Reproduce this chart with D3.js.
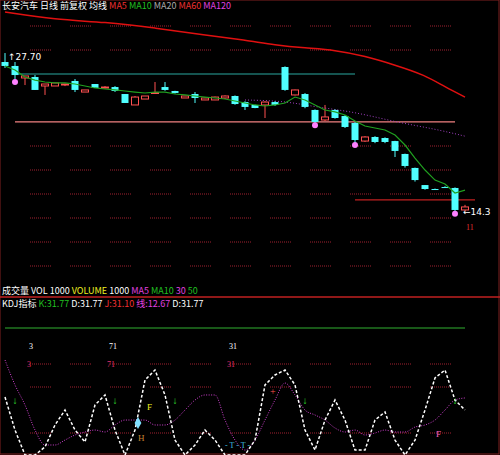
<!DOCTYPE html>
<html><head><meta charset="utf-8">
<script src="https://cdn.jsdelivr.net/npm/d3@7"></script>
<style>body{margin:0;background:#000}svg{display:block}</style></head>
<body><svg id="c" width="500" height="455"></svg>
<script>
// candles: [open, close, high, low]
const candles = [
[27.27,26.93,28.04,26.76],[26.93,26.15,27.27,25.72],[25.90,26.07,26.07,25.29],[25.98,24.87,26.15,24.87],
[25.21,25.38,25.38,24.44],[25.21,25.47,25.47,25.21],[25.30,25.38,25.40,25.20],[25.64,24.87,25.81,24.69],
[24.69,24.87,24.87,24.69],[25.38,25.04,25.38,25.04],[25.04,25.12,25.20,25.00],[25.12,24.78,25.20,24.70],
[24.52,23.75,24.52,23.75],[23.58,24.26,24.35,23.58],[24.09,24.35,24.35,24.09],[24.60,24.65,25.55,24.52],
[25.12,24.87,25.55,24.80],[24.78,24.61,24.80,24.55],[24.18,24.35,24.35,24.18],[24.52,24.18,24.69,23.75],
[24.01,24.18,24.20,24.00],[24.01,24.26,24.30,24.00],[24.18,24.35,24.40,24.10],[24.35,23.66,24.40,23.60],
[23.83,23.41,23.90,23.15],[23.58,23.32,23.60,23.30],[23.58,23.83,23.90,22.46],[23.83,23.58,23.90,23.50],
[26.84,24.87,26.90,24.80],[24.44,24.87,24.90,24.40],[24.52,23.41,24.60,23.30],[23.15,22.12,23.20,22.00],
[22.29,22.55,23.58,22.20],[23.15,22.46,23.20,22.40],[22.63,21.69,22.70,21.60],[22.03,20.57,22.10,20.31],
[20.48,20.83,20.90,20.40],[20.83,20.40,20.90,20.30],[20.74,20.40,20.80,20.30],[20.48,19.63,20.50,19.11],
[19.37,18.34,19.40,18.20],[18.17,17.13,18.20,17.00],[16.70,16.36,16.70,16.30],[16.36,16.33,16.40,16.30],
[16.53,16.50,16.60,16.50],[16.45,14.56,16.50,14.40],[14.56,14.82,15.00,14.50]];
const ma5 = [26.93,26.58,25.98,25.72,25.55,25.47,25.47,25.38,25.21,25.04,24.95,24.87,24.78,24.69,24.61,24.69,
24.69,24.52,24.44,24.35,24.26,24.18,24.09,23.92,23.75,23.58,23.49,23.58,23.75,24.26,24.01,23.58,23.15,22.98,
22.72,22.20,21.77,21.60,21.43,21.00,20.14,19.02,17.99,17.13,16.79,16.02,16.27];
const maLongIdx = [0,5,10,15,20,24,27,30,33,36,39,42,44,46];
const maLong = [31.56,30.90,30.71,30.20,29.59,29.16,28.73,28.47,28.30,27.78,27.01,26.15,25.12,24.26];
const maMidIdx = [24,28,31,35,39,43,46];
const maMid = [24.01,23.92,23.41,22.98,22.12,21.52,20.90];
const hLines = [{p:26.24,a:1,b:35,c:"#2aa7a0"},{p:22.12,a:1,b:45,c:"#f08080"},{p:15.42,a:35,b:47,c:"#c02020"}];
const jVals = [50.4,21.7,0,0,7.0,26.1,39.1,21.7,11.3,43.5,52.2,21.7,0,21.7,65.2,73.9,52.2,13.0,0,8.7,21.7,13.0,0,0,0,
13.0,60.9,69.6,73.9,60.9,21.7,4.3,30.4,47.8,30.4,4.3,4.3,30.4,37.4,13.0,0,13.0,39.1,67.0,73.9,47.8,39.1];
const dVals = [82.6,60.9,43.5,21.7,8.7,8.7,13.0,17.4,20.0,21.7,20.0,26.1,30.4,30.4,30.4,26.1,26.1,30.4,39.1,47.8,52.2,
52.2,30.4,13.0,4.3,13.0,30.4,47.8,62.6,52.2,39.1,34.8,30.4,23.5,20.0,21.7,17.4,19.1,21.7,20.0,20.0,24.3,26.1,30.4,
39.1,47.8,49.6];
const lowLabels = [{i:2,t:"3"},{i:10,t:"71"},{i:22,t:"31"}];

const svg = d3.select("#c");
const x = d3.scaleLinear().domain([0,46]).range([5,465]);
const y = d3.scaleLinear().domain([27.7,14.3]).range([57,213]);
const yo = d3.scaleLinear().domain([0,100]).range([455,340]);
const W = 7;

// dotted grid segments
function grid(ys){
  ys.forEach(yy=>{ for(let xx=30; xx<470; xx+=40){
    svg.append("line").attr("x1",xx).attr("x2",xx+22).attr("y1",yy).attr("y2",yy)
      .attr("stroke","#a02030").attr("stroke-dasharray","1,1");
  }});
}
grid([26,50,146,170,194,218,242,266]);
grid([364,387,433]);

// long MA
svg.append("path").datum(maLongIdx.map((d,k)=>[d,maLong[k]]))
  .attr("d",d3.line().x(d=>x(d[0])).y(d=>y(d[1])).curve(d3.curveBasis))
  .attr("fill","none").attr("stroke","#e01010").attr("stroke-width",1.5);
// h lines
hLines.forEach(h=>svg.append("line").attr("x1",x(h.a)).attr("x2",x(h.b)).attr("y1",y(h.p)).attr("y2",y(h.p)).attr("stroke",h.c).attr("stroke-width",1.2));
// mid MA dotted purple
svg.append("path").datum(maMidIdx.map((d,k)=>[d,maMid[k]]))
  .attr("d",d3.line().x(d=>x(d[0])).y(d=>y(d[1])).curve(d3.curveBasis))
  .attr("fill","none").attr("stroke","#a040c0").attr("stroke-dasharray","1,2");
// candles
const g = svg.append("g");
candles.forEach((c,i)=>{
  const up = c[1]>=c[0], col = up?"#ff5050":"#50ffff";
  const top = y(Math.max(c[0],c[1])), bot = y(Math.min(c[0],c[1]));
  g.append("line").attr("x1",x(i)).attr("x2",x(i)).attr("y1",y(c[2])).attr("y2",y(c[3])).attr("stroke",col);
  g.append("rect").attr("x",x(i)-W/2).attr("y",top).attr("width",W).attr("height",Math.max(1,bot-top))
    .attr("fill",up?"#000":col).attr("stroke",col).attr("stroke-width",up?1:0);
});
// MA5
svg.append("path").datum(ma5).attr("d",d3.line().x((d,i)=>x(i)).y(d=>y(d)))
  .attr("fill","none").attr("stroke","#20a020").attr("stroke-width",1.2);
// pink markers
[1,31,35,45].forEach(i=>svg.append("circle").attr("cx",x(i)).attr("cy",y(candles[i][3])+2).attr("r",3).attr("fill","#ff80ff"));
svg.append("text").attr("x",8).attr("y",60).attr("fill","#fff").attr("font-size",9).attr("font-family","DejaVu Sans").text("↑27.70");
svg.append("text").attr("x",463).attr("y",215).attr("fill","#fff").attr("font-size",9).attr("font-family","DejaVu Sans").text("←14.3");
svg.append("text").attr("x",466).attr("y",230).attr("fill","#e03030").attr("font-size",8).text("11");

// header
const hdr = svg.append("text").attr("x",2).attr("y",9).attr("font-size",9).attr("font-family","Noto Sans CJK SC");
[["#fff","长安汽车 日线 前复权 均线 "],["#f03030","MA5 "],["#20c020","MA10 "],["#aaa","MA20 "],["#f03030","MA60 "],["#e040e0","MA120"]]
 .forEach(s=>hdr.append("tspan").attr("fill",s[0]).text(s[1]));
svg.append("rect").attr("x",0).attr("y",0).attr("width",499).attr("height",454).attr("fill","none").attr("stroke","#802020");
svg.append("line").attr("x1",0).attr("x2",500).attr("y1",297).attr("y2",297).attr("stroke","#c02020").attr("stroke-width",1.5);
const t1 = svg.append("text").attr("x",2).attr("y",294).attr("font-size",9).attr("font-family","Noto Sans CJK SC");
[["#fff","成交量 VOL 1000 "],["#f0f020","VOLUME "],["#fff","1000 "],["#e040e0","MA5 "],["#20c020","MA10 "],["#e040e0","30 "],["#20c020","50"]]
 .forEach(s=>t1.append("tspan").attr("fill",s[0]).text(s[1]));
const t2 = svg.append("text").attr("x",2).attr("y",307).attr("font-size",9).attr("font-family","Noto Sans CJK SC");
[["#fff","KDJ指标 "],["#20c020","K:31.77 "],["#fff","D:31.77 "],["#f03030","J:31.10 "],["#e040e0","线:12.67 "],["#fff","D:31.77"]]
 .forEach(s=>t2.append("tspan").attr("fill",s[0]).text(s[1]));

// lower panel
svg.append("line").attr("x1",5).attr("x2",465).attr("y1",328).attr("y2",328).attr("stroke","#30b030").attr("stroke-width",1.2);
lowLabels.forEach(l=>{
  svg.append("text").attr("x",x(l.i)+4).attr("y",349).attr("fill","#fff").attr("font-size",8).text(l.t);
  svg.append("text").attr("x",x(l.i)+2).attr("y",367).attr("fill","#e03070").attr("font-size",8).text(l.t);
});
svg.append("path").datum(dVals).attr("d",d3.line().x((d,i)=>x(i)).y(d=>yo(d)).curve(d3.curveMonotoneX))
  .attr("fill","none").attr("stroke","#d040d0").attr("stroke-dasharray","1,1.5");
svg.append("path").datum(jVals).attr("d",d3.line().x((d,i)=>x(i)).y(d=>yo(d)))
  .attr("fill","none").attr("stroke","#fff").attr("stroke-width",1.5).attr("stroke-dasharray","3,2");
[[1,"↓"],[11,"↓"],[17,"↓"],[30,"↓"],[45,"↓"]].forEach(m=>svg.append("text").attr("x",x(m[0])).attr("y",404).attr("fill","#30e030").attr("font-size",10).attr("font-weight","bold").attr("text-anchor","middle").text(m[1]));
svg.append("text").attr("x",147).attr("y",410).attr("fill","#f0f020").attr("font-size",9).text("F");
svg.append("text").attr("x",138).attr("y",441).attr("fill","#c08030").attr("font-size",9).text("H");
svg.append("path").attr("d",d3.symbol(d3.symbolDiamond,40)()).attr("transform","translate(138,423)").attr("fill","#80e0ff");
svg.append("text").attr("x",270).attr("y",395).attr("fill","#ff5050").attr("font-size",10).text("+");
svg.append("text").attr("x",436).attr("y",437).attr("fill","#ff60c0").attr("font-size",9).text("F");
svg.append("text").attr("x",225).attr("y",448).attr("fill","#40c0e0").attr("font-size",8).text("- T - T -");
</script></body></html>
